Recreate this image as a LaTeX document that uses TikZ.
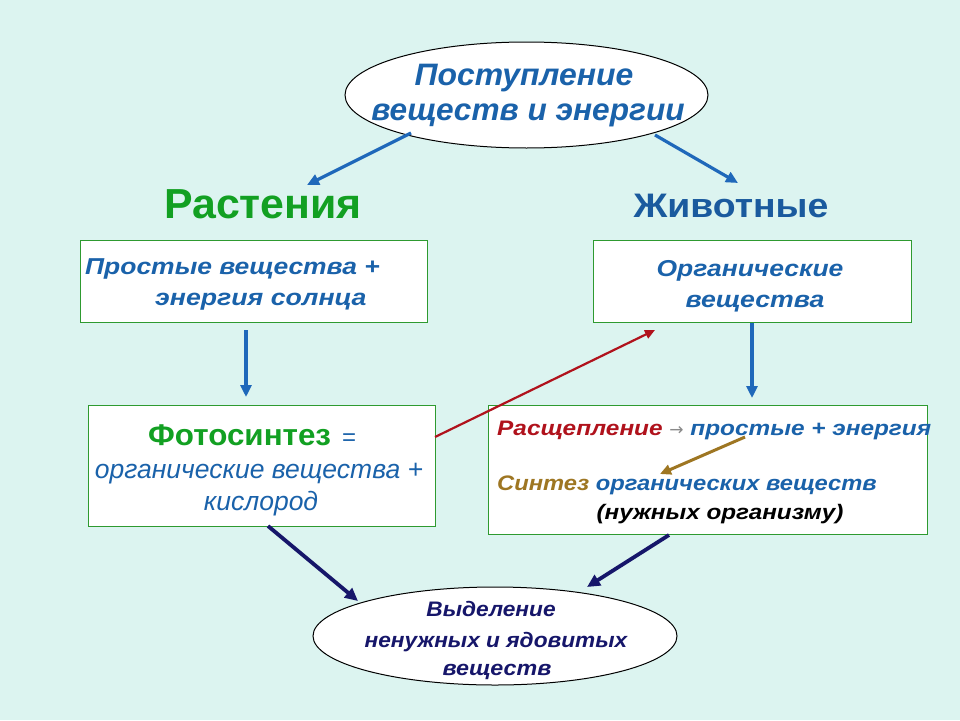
\documentclass[tikz,border=0pt]{standalone}
\usepackage{fontspec}
\setmainfont{Liberation Sans}
\newfontfamily\arrfont{DejaVu Sans}
\usetikzlibrary{arrows.meta,shapes.geometric}
\definecolor{bg}{HTML}{DCF4F0}
\definecolor{txtblue}{HTML}{1A62AA}
\definecolor{darkblue}{HTML}{1A5A9E}
\definecolor{plantgreen}{HTML}{12A022}
\definecolor{boxgreen}{HTML}{2E9A30}
\definecolor{arrblue}{HTML}{1F68BA}
\definecolor{redc}{HTML}{B0121C}
\definecolor{brownc}{HTML}{9E7622}
\definecolor{navy}{HTML}{16166A}
\definecolor{arrowgray}{HTML}{8A8A8A}
\tikzset{
  ellbox/.style={draw=black, line width=1pt, fill=white, ellipse, inner sep=0pt},
  rectbox/.style={draw=boxgreen, line width=1pt, fill=white, rectangle, inner sep=0pt},
  line/.style={anchor=base, inner sep=0pt},
  bis/.style 2 args={font=\bfseries\itshape\fontsize{#1}{#1}\selectfont\addfontfeatures{FakeStretch=#2}},
  tri/.style={-{Triangle[length=12pt,width=11pt]}},
  bluearr/.style={tri, draw=arrblue, line width=3.2pt},
  redarr/.style={-{Triangle[length=10pt,width=9pt]}, draw=redc, line width=2.2pt},
  brownarr/.style={-{Triangle[length=11pt,width=10pt]}, draw=brownc, line width=3pt},
  navyarr/.style={-{Triangle[length=13pt,width=12pt]}, draw=navy, line width=3.8pt},
}
\begin{document}
\begin{tikzpicture}[x=1pt,y=-1pt]
\fill[bg] (0,0) rectangle (960,720);
\useasboundingbox (0,0) rectangle (960,720);

% shapes
\node[ellbox, minimum width=363pt, minimum height=106pt] (top) at (526.5,95) {};
\node[rectbox, minimum width=347pt, minimum height=82pt] (plantsrc) at (253.5,281) {};
\node[rectbox, minimum width=318pt, minimum height=82pt] (animsrc) at (752,281) {};
\node[rectbox, minimum width=347pt, minimum height=121pt] (photo) at (261.5,465.5) {};
\node[rectbox, minimum width=439pt, minimum height=129pt] (split) at (707.5,470) {};
\node[ellbox, minimum width=364pt, minimum height=98pt] (bottom) at (495,636) {};

% texts
\node[line, txtblue, bis={31}{1.03}] (t1) at (524,85) {Поступление};
\node[line, txtblue, bis={31}{1.02}] (t2) at (528,120) {веществ и энергии};
\node[line, plantgreen, font=\bfseries\fontsize{42}{42}\selectfont\addfontfeatures{FakeStretch=1.02}] (plants) at (263,218) {Растения};
\node[line, darkblue, font=\bfseries\fontsize{34}{34}\selectfont\addfontfeatures{FakeStretch=1.1}] (animals) at (731,217) {Животные};

\node[line, anchor=base west, txtblue, bis={23}{1.15}] (p1) at (85,274) {Простые вещества +};
\node[line, anchor=base west, txtblue, bis={23}{1.16}] (p2) at (155,305) {энергия солнца};

\node[line, txtblue, bis={23}{1.15}] (a1) at (750,276) {Органические};
\node[line, txtblue, bis={23}{1.16}] (a2) at (755,307) {вещества};

\node[line, anchor=base west, plantgreen, font=\bfseries\fontsize{30}{30}\selectfont\addfontfeatures{FakeStretch=1.045}] (f1) at (148,445) {Фотосинтез};
\node[line, anchor=base west, txtblue, font=\fontsize{24}{24}\selectfont] (f1b) at (342,445) {=};
\node[line, txtblue, font=\itshape\fontsize{26.5}{26.5}\selectfont] (f2) at (259,478) {органические вещества +};
\node[line, txtblue, font=\itshape\fontsize{26.5}{26.5}\selectfont] (f3) at (261,510) {кислород};

\node[line, anchor=base west, bis={21}{1.16}] (s1) at (497,435)
  {\textcolor{redc}{Расщепление} \textcolor{arrowgray}{\mdseries\upshape\arrfont\fontsize{17}{17}\selectfont →} \textcolor{txtblue}{простые + энергия}};
\node[line, anchor=base west, bis={21}{1.13}] (s2) at (497,490)
  {\textcolor{brownc}{Синтез} \textcolor{txtblue}{органических веществ}};
\node[line, black, bis={21}{1.155}] (s3) at (720,519) {(нужных организму)};

\node[line, navy, bis={21}{1.08}] (b1) at (491,616) {Выделение};
\node[line, navy, bis={21}{1.08}] (b2) at (496,647) {ненужных и ядовитых};
\node[line, navy, bis={21}{1.11}] (b3) at (497,675) {веществ};

% connector end points
\coordinate (c1s) at (411,133);
\coordinate (c1e) at (307,185);
\coordinate (c2s) at (655,135);
\coordinate (c2e) at (738,183);
\coordinate (c3s) at (246,330);
\coordinate (c3e) at (246,397);
\coordinate (c4s) at (752,323);
\coordinate (c4e) at (752,398);
\coordinate (c5s) at (435,437);
\coordinate (c5e) at (655,330);
\coordinate (c6s) at (745,437);
\coordinate (c6e) at (660,474);
\coordinate (c7s) at (268,526);
\coordinate (c7e) at (358,601);
\coordinate (c8s) at (669,535);
\coordinate (c8e) at (587,587);

\draw[bluearr] (c1s) -- (c1e);
\draw[bluearr] (c2s) -- (c2e);
\draw[bluearr] (c3s) -- (c3e);
\draw[bluearr] (c4s) -- (c4e);
\draw[redarr] (c5s) -- (c5e);
\draw[brownarr] (c6s) -- (c6e);
\draw[navyarr] (c7s) -- (c7e);
\draw[navyarr] (c8s) -- (c8e);
\end{tikzpicture}
\end{document}
